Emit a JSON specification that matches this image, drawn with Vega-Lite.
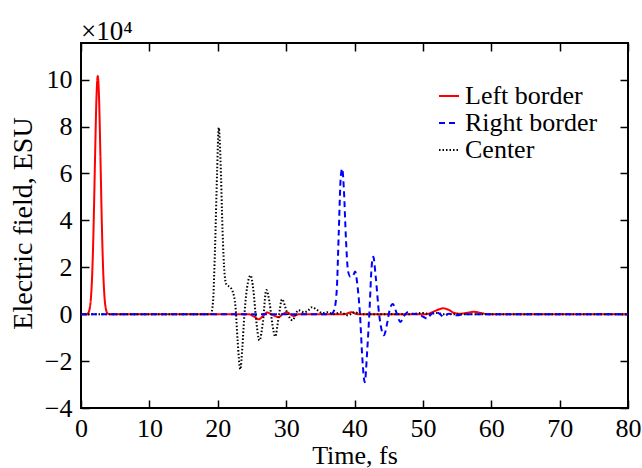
{
  "$schema": "https://vega.github.io/schema/vega-lite/v6.json",
  "width": 547,
  "height": 365,
  "autosize": {"type": "none"},
  "padding": {"left": 81, "top": 43, "right": 14, "bottom": 60},
  "background": "white",
  "config": {
    "view": {"stroke": "black", "strokeWidth": 2},
    "font": "Liberation Serif"
  },
  "title": {
    "text": "×10⁴",
    "anchor": "start",
    "frame": "group",
    "font": "Liberation Serif",
    "fontSize": 27,
    "fontWeight": "normal",
    "color": "black",
    "baseline": "alphabetic",
    "offset": -25
  },
  "data": {
    "values": [
      {"s": "Left border", "t": 0, "v": 0},
      {"s": "Left border", "t": 0.8, "v": 0},
      {"s": "Left border", "t": 1.05, "v": 0.05},
      {"s": "Left border", "t": 1.25, "v": 0.21},
      {"s": "Left border", "t": 1.45, "v": 0.68},
      {"s": "Left border", "t": 1.65, "v": 1.8},
      {"s": "Left border", "t": 1.85, "v": 3.83},
      {"s": "Left border", "t": 2.05, "v": 6.59},
      {"s": "Left border", "t": 2.25, "v": 9.11},
      {"s": "Left border", "t": 2.45, "v": 10.15},
      {"s": "Left border", "t": 2.65, "v": 9.11},
      {"s": "Left border", "t": 2.85, "v": 6.59},
      {"s": "Left border", "t": 3.05, "v": 3.83},
      {"s": "Left border", "t": 3.25, "v": 1.8},
      {"s": "Left border", "t": 3.45, "v": 0.68},
      {"s": "Left border", "t": 3.65, "v": 0.21},
      {"s": "Left border", "t": 3.85, "v": 0.05},
      {"s": "Left border", "t": 4.1, "v": 0},
      {"s": "Left border", "t": 24.5, "v": 0},
      {"s": "Left border", "t": 25.3, "v": -0.1},
      {"s": "Left border", "t": 26, "v": -0.22},
      {"s": "Left border", "t": 26.6, "v": -0.08},
      {"s": "Left border", "t": 27.2, "v": 0.07},
      {"s": "Left border", "t": 28, "v": -0.03},
      {"s": "Left border", "t": 28.9, "v": -0.12},
      {"s": "Left border", "t": 29.5, "v": 0},
      {"s": "Left border", "t": 30.1, "v": 0.08},
      {"s": "Left border", "t": 30.6, "v": 0},
      {"s": "Left border", "t": 31.1, "v": -0.08},
      {"s": "Left border", "t": 31.8, "v": 0},
      {"s": "Left border", "t": 38.5, "v": 0},
      {"s": "Left border", "t": 39.5, "v": 0.08},
      {"s": "Left border", "t": 40.5, "v": 0},
      {"s": "Left border", "t": 50.5, "v": 0},
      {"s": "Left border", "t": 51.5, "v": 0.1},
      {"s": "Left border", "t": 52.3, "v": 0.2},
      {"s": "Left border", "t": 53, "v": 0.25},
      {"s": "Left border", "t": 53.8, "v": 0.18},
      {"s": "Left border", "t": 54.6, "v": 0.05},
      {"s": "Left border", "t": 55.5, "v": 0.02},
      {"s": "Left border", "t": 56.5, "v": 0.06},
      {"s": "Left border", "t": 57.5, "v": 0.1},
      {"s": "Left border", "t": 58.5, "v": 0.05},
      {"s": "Left border", "t": 59.5, "v": 0},
      {"s": "Left border", "t": 80, "v": 0},

      {"s": "Center", "t": 0, "v": 0},
      {"s": "Center", "t": 19, "v": 0},
      {"s": "Center", "t": 19.3, "v": 0.5},
      {"s": "Center", "t": 19.6, "v": 2.8},
      {"s": "Center", "t": 19.9, "v": 6.0},
      {"s": "Center", "t": 20.15, "v": 7.95},
      {"s": "Center", "t": 20.4, "v": 6.6},
      {"s": "Center", "t": 20.7, "v": 3.6},
      {"s": "Center", "t": 21.0, "v": 1.7},
      {"s": "Center", "t": 21.3, "v": 1.25},
      {"s": "Center", "t": 21.8, "v": 1.15},
      {"s": "Center", "t": 22.2, "v": 0.95},
      {"s": "Center", "t": 22.6, "v": 0.3},
      {"s": "Center", "t": 22.9, "v": -1.1},
      {"s": "Center", "t": 23.3, "v": -2.35},
      {"s": "Center", "t": 23.6, "v": -1.4},
      {"s": "Center", "t": 23.9, "v": 0},
      {"s": "Center", "t": 24.3, "v": 1.15},
      {"s": "Center", "t": 24.8, "v": 1.65},
      {"s": "Center", "t": 25.2, "v": 1.05},
      {"s": "Center", "t": 25.6, "v": -0.2},
      {"s": "Center", "t": 26.1, "v": -1.12},
      {"s": "Center", "t": 26.6, "v": -0.35},
      {"s": "Center", "t": 27.1, "v": 1.03},
      {"s": "Center", "t": 27.6, "v": 0.45},
      {"s": "Center", "t": 28.0, "v": -0.45},
      {"s": "Center", "t": 28.4, "v": -0.95},
      {"s": "Center", "t": 28.9, "v": -0.15},
      {"s": "Center", "t": 29.4, "v": 0.64},
      {"s": "Center", "t": 30.1, "v": 0.1},
      {"s": "Center", "t": 30.9, "v": -0.26},
      {"s": "Center", "t": 31.8, "v": 0.17},
      {"s": "Center", "t": 32.6, "v": 0.08},
      {"s": "Center", "t": 33.2, "v": 0.15},
      {"s": "Center", "t": 33.8, "v": 0.3},
      {"s": "Center", "t": 34.5, "v": 0.18},
      {"s": "Center", "t": 35.3, "v": 0.05},
      {"s": "Center", "t": 36, "v": 0.08},
      {"s": "Center", "t": 37, "v": 0},
      {"s": "Center", "t": 38, "v": 0.08},
      {"s": "Center", "t": 39, "v": -0.05},
      {"s": "Center", "t": 40, "v": 0.08},
      {"s": "Center", "t": 41, "v": 0},
      {"s": "Center", "t": 48, "v": 0},
      {"s": "Center", "t": 50, "v": 0.05},
      {"s": "Center", "t": 51, "v": 0},
      {"s": "Center", "t": 52, "v": 0.05},
      {"s": "Center", "t": 53, "v": 0},
      {"s": "Center", "t": 80, "v": 0},

      {"s": "Right border", "t": 0, "v": 0},
      {"s": "Right border", "t": 36.6, "v": 0},
      {"s": "Right border", "t": 37.0, "v": 0.15},
      {"s": "Right border", "t": 37.4, "v": 1.0},
      {"s": "Right border", "t": 37.7, "v": 3.5},
      {"s": "Right border", "t": 38.0, "v": 5.9},
      {"s": "Right border", "t": 38.2, "v": 6.2},
      {"s": "Right border", "t": 38.45, "v": 5.3},
      {"s": "Right border", "t": 38.75, "v": 3.2},
      {"s": "Right border", "t": 39.05, "v": 1.85},
      {"s": "Right border", "t": 39.4, "v": 1.6},
      {"s": "Right border", "t": 39.75, "v": 1.62},
      {"s": "Right border", "t": 40.1, "v": 1.82},
      {"s": "Right border", "t": 40.4, "v": 1.3},
      {"s": "Right border", "t": 40.8, "v": 0},
      {"s": "Right border", "t": 41.15, "v": -1.9},
      {"s": "Right border", "t": 41.5, "v": -2.9},
      {"s": "Right border", "t": 41.85, "v": -1.6},
      {"s": "Right border", "t": 42.2, "v": 0.2},
      {"s": "Right border", "t": 42.5, "v": 2.0},
      {"s": "Right border", "t": 42.75, "v": 2.45},
      {"s": "Right border", "t": 43.1, "v": 1.6},
      {"s": "Right border", "t": 43.6, "v": 0},
      {"s": "Right border", "t": 44.3, "v": -0.9},
      {"s": "Right border", "t": 44.8, "v": -0.35},
      {"s": "Right border", "t": 45.2, "v": 0.25},
      {"s": "Right border", "t": 45.6, "v": 0.43},
      {"s": "Right border", "t": 46.1, "v": 0.1},
      {"s": "Right border", "t": 46.7, "v": -0.33},
      {"s": "Right border", "t": 47.3, "v": -0.05},
      {"s": "Right border", "t": 47.9, "v": 0.1},
      {"s": "Right border", "t": 48.5, "v": 0.02},
      {"s": "Right border", "t": 49.2, "v": 0},
      {"s": "Right border", "t": 50, "v": -0.1},
      {"s": "Right border", "t": 50.6, "v": -0.19},
      {"s": "Right border", "t": 51.2, "v": 0},
      {"s": "Right border", "t": 51.9, "v": 0.1},
      {"s": "Right border", "t": 52.5, "v": 0},
      {"s": "Right border", "t": 53, "v": -0.1},
      {"s": "Right border", "t": 53.8, "v": 0.02},
      {"s": "Right border", "t": 55, "v": -0.05},
      {"s": "Right border", "t": 56, "v": 0},
      {"s": "Right border", "t": 80, "v": 0}
    ]
  },
  "layer": [
    {
      "mark": {"type": "line", "interpolate": "monotone"},
      "encoding": {
        "x": {
          "field": "t", "type": "quantitative",
          "scale": {"domain": [0, 80], "nice": false, "zero": false},
          "axis": {
            "values": [0, 10, 20, 30, 40, 50, 60, 70, 80],
            "grid": false, "domain": false,
            "tickSize": -8, "tickColor": "black", "tickWidth": 1.5,
            "labelFont": "Liberation Serif", "labelFontSize": 26, "labelColor": "black",
            "labelBaseline": "alphabetic", "labelPadding": 36, "labelFlush": false,
            "title": "Time, fs",
            "titleFont": "Liberation Serif", "titleFontSize": 26, "titleFontWeight": "normal",
            "titleColor": "black", "titleBaseline": "alphabetic", "titleY": 55
          }
        },
        "y": {
          "field": "v", "type": "quantitative",
          "scale": {"domain": [-4, 11.56], "nice": false, "zero": false},
          "axis": {
            "values": [-4, -2, 0, 2, 4, 6, 8, 10],
            "grid": false, "domain": false,
            "tickSize": -8, "tickColor": "black", "tickWidth": 1.5,
            "labelFont": "Liberation Serif", "labelFontSize": 26, "labelColor": "black",
            "labelPadding": 17, "labelFlush": false,
            "title": "Electric field, ESU",
            "titleFont": "Liberation Serif", "titleFontSize": 28, "titleFontWeight": "normal",
            "titleColor": "black", "titleBaseline": "alphabetic", "titleX": -50, "titleY": 180
          }
        },
        "color": {
          "field": "s", "type": "nominal",
          "scale": {"domain": ["Left border", "Right border", "Center"], "range": ["#ff0000", "#0000ff", "#000000"]},
          "legend": {
            "title": null, "orient": "none", "legendX": 355, "legendY": 40,
            "symbolType": "stroke", "symbolSize": 400, "symbolStrokeWidth": 2,
            "labelFont": "Liberation Serif", "labelFontSize": 26, "labelColor": "black",
            "labelOffset": 3, "rowPadding": 1, "padding": 0
          }
        },
        "strokeDash": {
          "field": "s", "type": "nominal",
          "scale": {"domain": ["Left border", "Right border", "Center"], "range": [[1, 0], [6, 4], [1.5, 2]]},
          "legend": {
            "title": null, "orient": "none", "legendX": 355, "legendY": 40,
            "symbolType": "stroke", "symbolSize": 400, "symbolStrokeWidth": 2,
            "labelFont": "Liberation Serif", "labelFontSize": 26, "labelColor": "black",
            "labelOffset": 3, "rowPadding": 1, "padding": 0
          }
        },
        "strokeWidth": {
          "field": "s", "type": "nominal",
          "scale": {"domain": ["Left border", "Right border", "Center"], "range": [2, 2, 1.6]},
          "legend": null
        }
      }
    },
    {
      "mark": {"type": "line", "strokeOpacity": 0},
      "encoding": {
        "x": {
          "field": "t", "type": "quantitative",
          "axis": {
            "orient": "top", "values": [0, 10, 20, 30, 40, 50, 60, 70, 80],
            "labels": false, "title": null, "grid": false, "domain": false,
            "tickSize": -8, "tickColor": "black", "tickWidth": 1.5
          }
        },
        "y": {
          "field": "v", "type": "quantitative",
          "axis": {
            "orient": "right", "values": [-4, -2, 0, 2, 4, 6, 8, 10],
            "labels": false, "title": null, "grid": false, "domain": false,
            "tickSize": -8, "tickColor": "black", "tickWidth": 1.5
          }
        },
        "detail": {"field": "s"}
      }
    }
  ],
  "resolve": {"axis": {"x": "independent", "y": "independent"}}
}
